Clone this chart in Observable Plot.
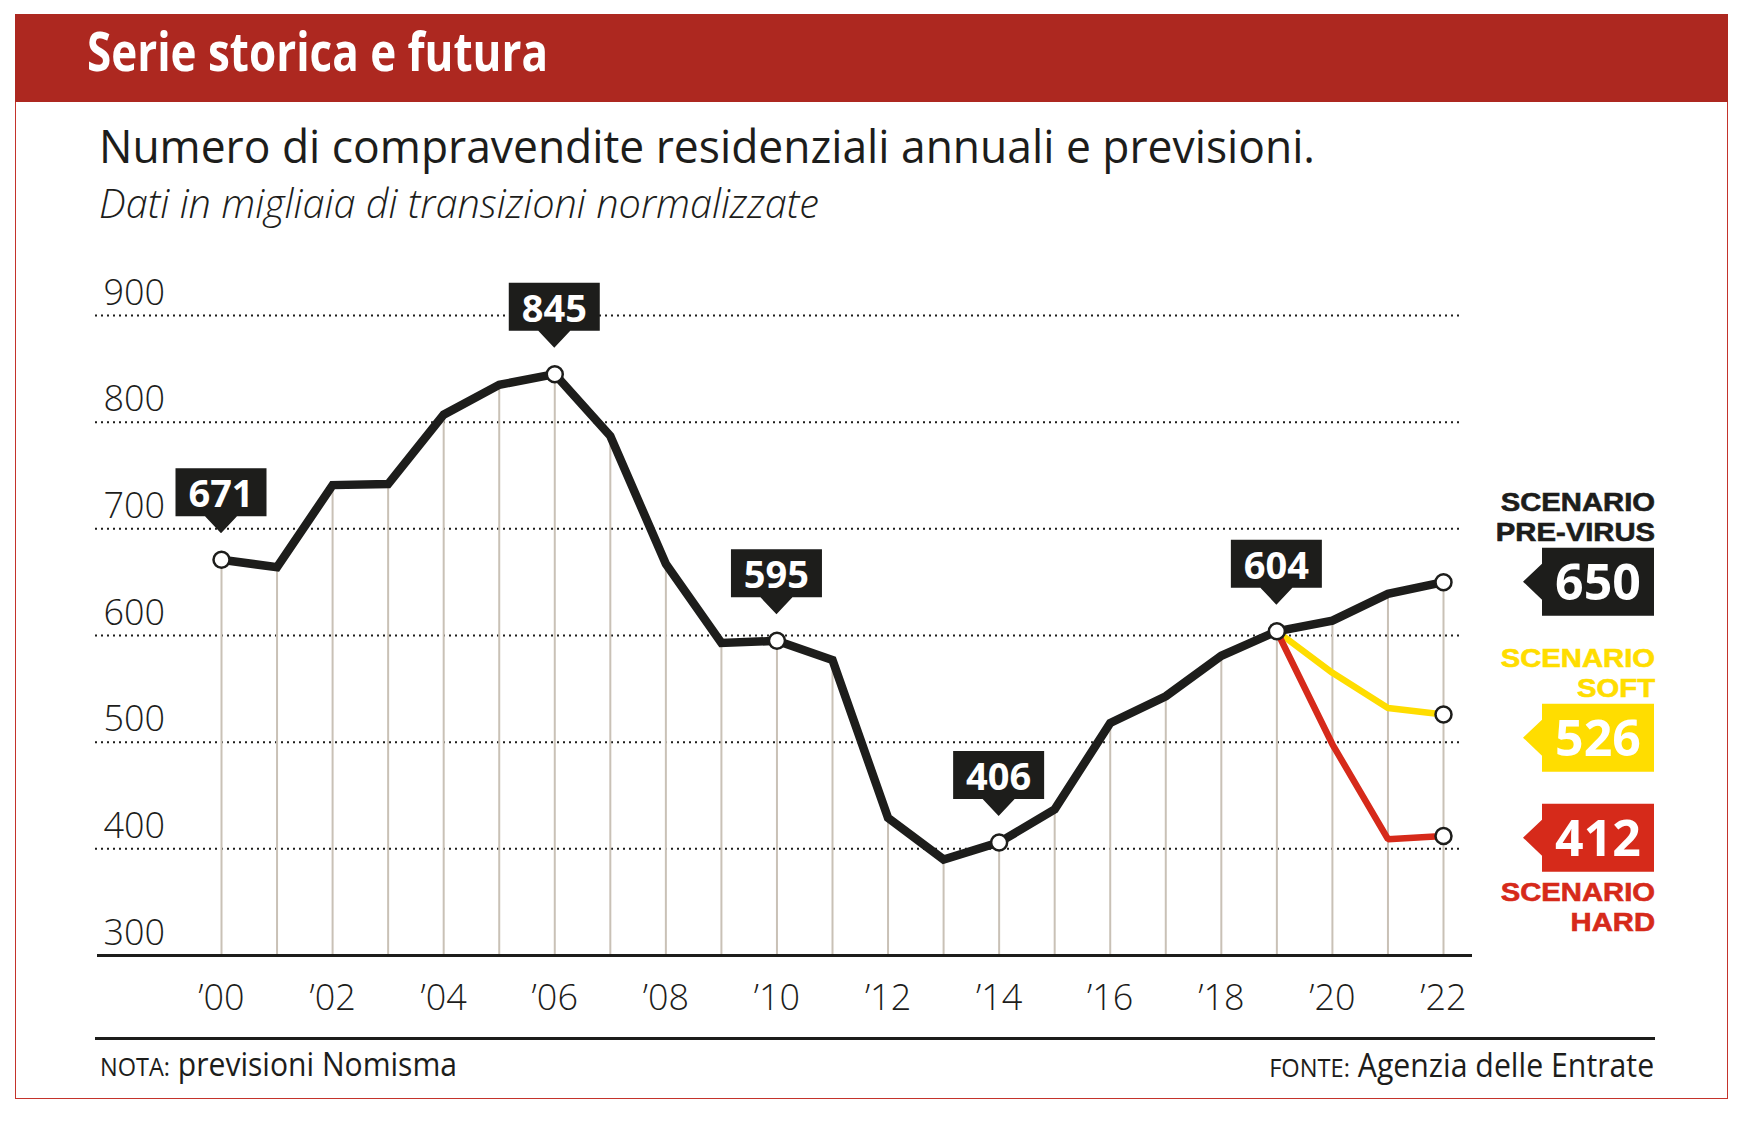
<!DOCTYPE html>
<html><head><meta charset="utf-8">
<script src="https://cdn.jsdelivr.net/npm/d3@7"></script>
<script src="https://cdn.jsdelivr.net/npm/@observablehq/plot@0.6"></script>
<style>
html,body{margin:0;padding:0;background:#fff;width:1752px;height:1125px;overflow:hidden;}
#page{position:relative;width:1752px;height:1125px;font-family:"Open Sans","Noto Sans",sans-serif;color:#1d1d1b;}
.abs{position:absolute;white-space:nowrap;line-height:1;left:0;top:0;}
</style></head><body><div id="page">
<div style="position:absolute;left:15px;top:14px;width:1713px;height:1085px;border:1.5px solid #c4332b;box-sizing:border-box"></div>
<div style="position:absolute;left:15px;top:14px;width:1713px;height:88px;background:#ad2820"></div>
<div id="kicker" class="abs" style="font-size:53px;font-weight:700;color:#fff">Serie storica e futura</div>
<div id="title" class="abs" style="font-size:45px;font-weight:400">Numero di compravendite residenziali annuali e previsioni.</div>
<div id="subtitle" class="abs" style="font-size:40px;font-style:italic;font-weight:300">Dati in migliaia di transizioni normalizzate</div>
<div id="chart" style="position:absolute;left:0;top:240px"></div>
<div style="position:absolute;left:95px;top:1037px;width:1560px;height:2.5px;background:#1d1d1b"></div>
<div id="note" class="abs" style="font-size:32px"><span style="font-size:25px">NOTA:</span> previsioni Nomisma</div>
<div id="source" class="abs" style="font-size:32px"><span style="font-size:25px">FONTE:</span> Agenzia delle Entrate</div>
</div>
<script>
// ---- data ----
const years = [2000, 2001, 2002, 2003, 2004, 2005, 2006, 2007, 2008, 2009, 2010, 2011, 2012, 2013, 2014, 2015, 2016, 2017, 2018, 2019, 2020, 2021, 2022];
const preVirus = [671, 664, 741, 742, 807, 835, 845, 787, 667, 593, 595, 577, 429, 390, 406, 437, 518, 543, 581, 604, 614, 639, 650];
const scenarioYears = [2019, 2020, 2021, 2022];
const soft = [604, 565, 532, 526];
const hard = [604, 498, 409, 412];
const calloutYears = [2000, 2006, 2010, 2014, 2019];
const yTicks = [900, 800, 700, 600, 500, 400, 300];
const xTicks = [2000, 2002, 2004, 2006, 2008, 2010, 2012, 2014, 2016, 2018, 2020, 2022];
const xTickLabels = ["’00", "’02", "’04", "’06", "’08", "’10", "’12", "’14", "’16", "’18", "’20", "’22"];
const scenarioNames = [["SCENARIO", "PRE-VIRUS"], ["SCENARIO", "SOFT"], ["SCENARIO", "HARD"]];

// ---- styles ----
const dark = "#1d1d1b", yellow = "#ffdd00", red = "#d62a1a", ruleColor = "#c9c1b6";
const font = "'Open Sans','Noto Sans',sans-serif";
const heavyFont = "'Liberation Sans',Arial,sans-serif";

const preData = years.map((year, i) => ({year, value: preVirus[i]}));
const softData = scenarioYears.map((year, i) => ({year, value: soft[i]}));
const hardData = scenarioYears.map((year, i) => ({year, value: hard[i]}));
const callouts = calloutYears.map(year => ({year, value: preVirus[years.indexOf(year)]}));
const endDots = [
  {year: years[years.length - 1], value: preVirus[preVirus.length - 1]},
  {year: scenarioYears[scenarioYears.length - 1], value: soft[soft.length - 1]},
  {year: scenarioYears[scenarioYears.length - 1], value: hard[hard.length - 1]}
];
const scenarios = [
  {names: scenarioNames[0], value: preVirus[preVirus.length - 1], color: dark, title: "above", gap: 0},
  {names: scenarioNames[1], value: soft[soft.length - 1], color: yellow, title: "above", gap: 88},
  {names: scenarioNames[2], value: hard[hard.length - 1], color: red, title: "below", gap: 32}
];

function calloutMark(index, scales) {
  const g = d3.create("svg:g");
  const bw = 91, bh = 48, gap = 43, tip = 17, hw = 16;
  for (const d of callouts) {
    const cx = scales.x(d.year), cy = scales.y(d.value);
    const bottom = cy - gap, top = bottom - bh;
    g.append("path")
      .attr("d", `M${cx - bw / 2},${top}H${cx + bw / 2}V${bottom}H${cx + hw}L${cx},${bottom + tip}L${cx - hw},${bottom}H${cx - bw / 2}Z`)
      .attr("fill", dark);
    g.append("text").attr("x", cx).attr("y", bottom - 9)
      .attr("text-anchor", "middle").attr("fill", "#fff")
      .attr("font-weight", 700).attr("font-size", 38).attr("font-family", font)
      .text(d.value);
  }
  return g.node();
}

function scenarioMark(index, scales, values, dims) {
  const g = d3.create("svg:g");
  const right = dims.width - dims.marginRight + 211;
  const bw = 112, bh = 68, tipW = 19, tipH = 18, lead = 30;
  const left = right - bw;
  let prevBottom = -Infinity;
  for (const s of scenarios) {
    const top = Math.max(scales.y(s.value) - bh / 2, prevBottom + s.gap);
    const bottom = top + bh, cy = top + bh / 2;
    prevBottom = bottom;
    g.append("path")
      .attr("d", `M${left},${top}H${right}V${bottom}H${left}V${cy + tipH}L${left - tipW},${cy}L${left},${cy - tipH}Z`)
      .attr("fill", s.color);
    g.append("text").attr("x", (left + right) / 2).attr("y", bottom - 16)
      .attr("text-anchor", "middle").attr("fill", "#fff")
      .attr("font-weight", 700).attr("font-size", 50).attr("font-family", font)
      .text(s.value);
    const first = s.title === "above" ? top - 7 - lead : bottom + 29;
    s.names.forEach((n, k) => {
      g.append("text")
        .attr("transform", `translate(${right + 1},${first + k * lead}) scale(1.17,1)`)
        .attr("text-anchor", "end").attr("fill", s.color)
        .attr("font-weight", 700).attr("font-size", 25).attr("font-family", heavyFont)
        .attr("stroke", s.color).attr("stroke-width", 0.6)
        .text(n);
    });
  }
  return g.node();
}

const chart = Plot.plot({
  width: 1752, height: 785,
  marginLeft: 221, marginRight: 309, marginTop: 75, marginBottom: 70,
  x: {domain: [2000, 2022], axis: null},
  y: {domain: [300, 900], axis: null},
  style: {fontFamily: font, color: dark, background: "transparent", overflow: "visible"},
  marks: [
    Plot.ruleY(yTicks.filter(t => t > 300), {y: d => d, insetLeft: -126, insetRight: -18, stroke: dark, strokeWidth: 2, strokeDasharray: "2 4"}),
    Plot.ruleX(preData, {x: "year", y1: 300, y2: "value", stroke: ruleColor, strokeWidth: 2}),
    Plot.ruleY([300], {insetLeft: -124, insetRight: -29, stroke: dark, strokeWidth: 3}),
    Plot.text(yTicks, {y: d => d, text: d => String(d), frameAnchor: "left", textAnchor: "start", lineAnchor: "bottom", dx: -118, dy: -11, fontSize: 36, fontWeight: 300, fill: dark}),
    Plot.text(xTicks, {x: d => d, text: (d, i) => xTickLabels[i], frameAnchor: "bottom", lineAnchor: "bottom", dy: 54, fontSize: 36, fontWeight: 300, fill: dark}),
    Plot.line(softData, {x: "year", y: "value", stroke: yellow, strokeWidth: 6.5, strokeLinejoin: "miter"}),
    Plot.line(hardData, {x: "year", y: "value", stroke: red, strokeWidth: 6.5, strokeLinejoin: "miter"}),
    Plot.line(preData, {x: "year", y: "value", stroke: dark, strokeWidth: 8.5, strokeLinejoin: "miter", strokeMiterlimit: 3}),
    Plot.dot([...callouts, ...endDots], {x: "year", y: "value", r: 8, fill: "white", stroke: dark, strokeWidth: 2.5}),
    calloutMark,
    scenarioMark
  ]
});
document.getElementById("chart").append(chart);

function place(id, {x, baseline, width, align = "left"}) {
  const el = document.getElementById(id);
  el.style.transform = "none"; el.style.left = "0px"; el.style.top = "0px";
  let m = el.querySelector(".bm");
  if (!m) {
    m = document.createElement("span"); m.className = "bm";
    m.style.cssText = "display:inline-block;width:0;height:0;vertical-align:baseline";
    el.appendChild(m);
  }
  const r = el.getBoundingClientRect();
  const b = m.getBoundingClientRect().top - r.top;
  const w = r.width;
  const s = width ? width / w : 1;
  el.style.transformOrigin = align === "left" ? "0 0" : "100% 0";
  el.style.transform = `scaleX(${s})`;
  el.style.top = (baseline - b) + "px";
  el.style.left = (align === "left" ? x : x - w) + "px";
}
function layout() {
  place("kicker", {x: 87, baseline: 71, width: 461});
  place("title", {x: 99, baseline: 163, width: 1216});
  place("subtitle", {x: 99, baseline: 218, width: 720});
  place("note", {x: 100, baseline: 1076, width: 357});
  place("source", {x: 1654, baseline: 1077, width: 385, align: "right"});
}
layout();
if (document.fonts && document.fonts.ready) document.fonts.ready.then(layout);
</script>
</body></html>
